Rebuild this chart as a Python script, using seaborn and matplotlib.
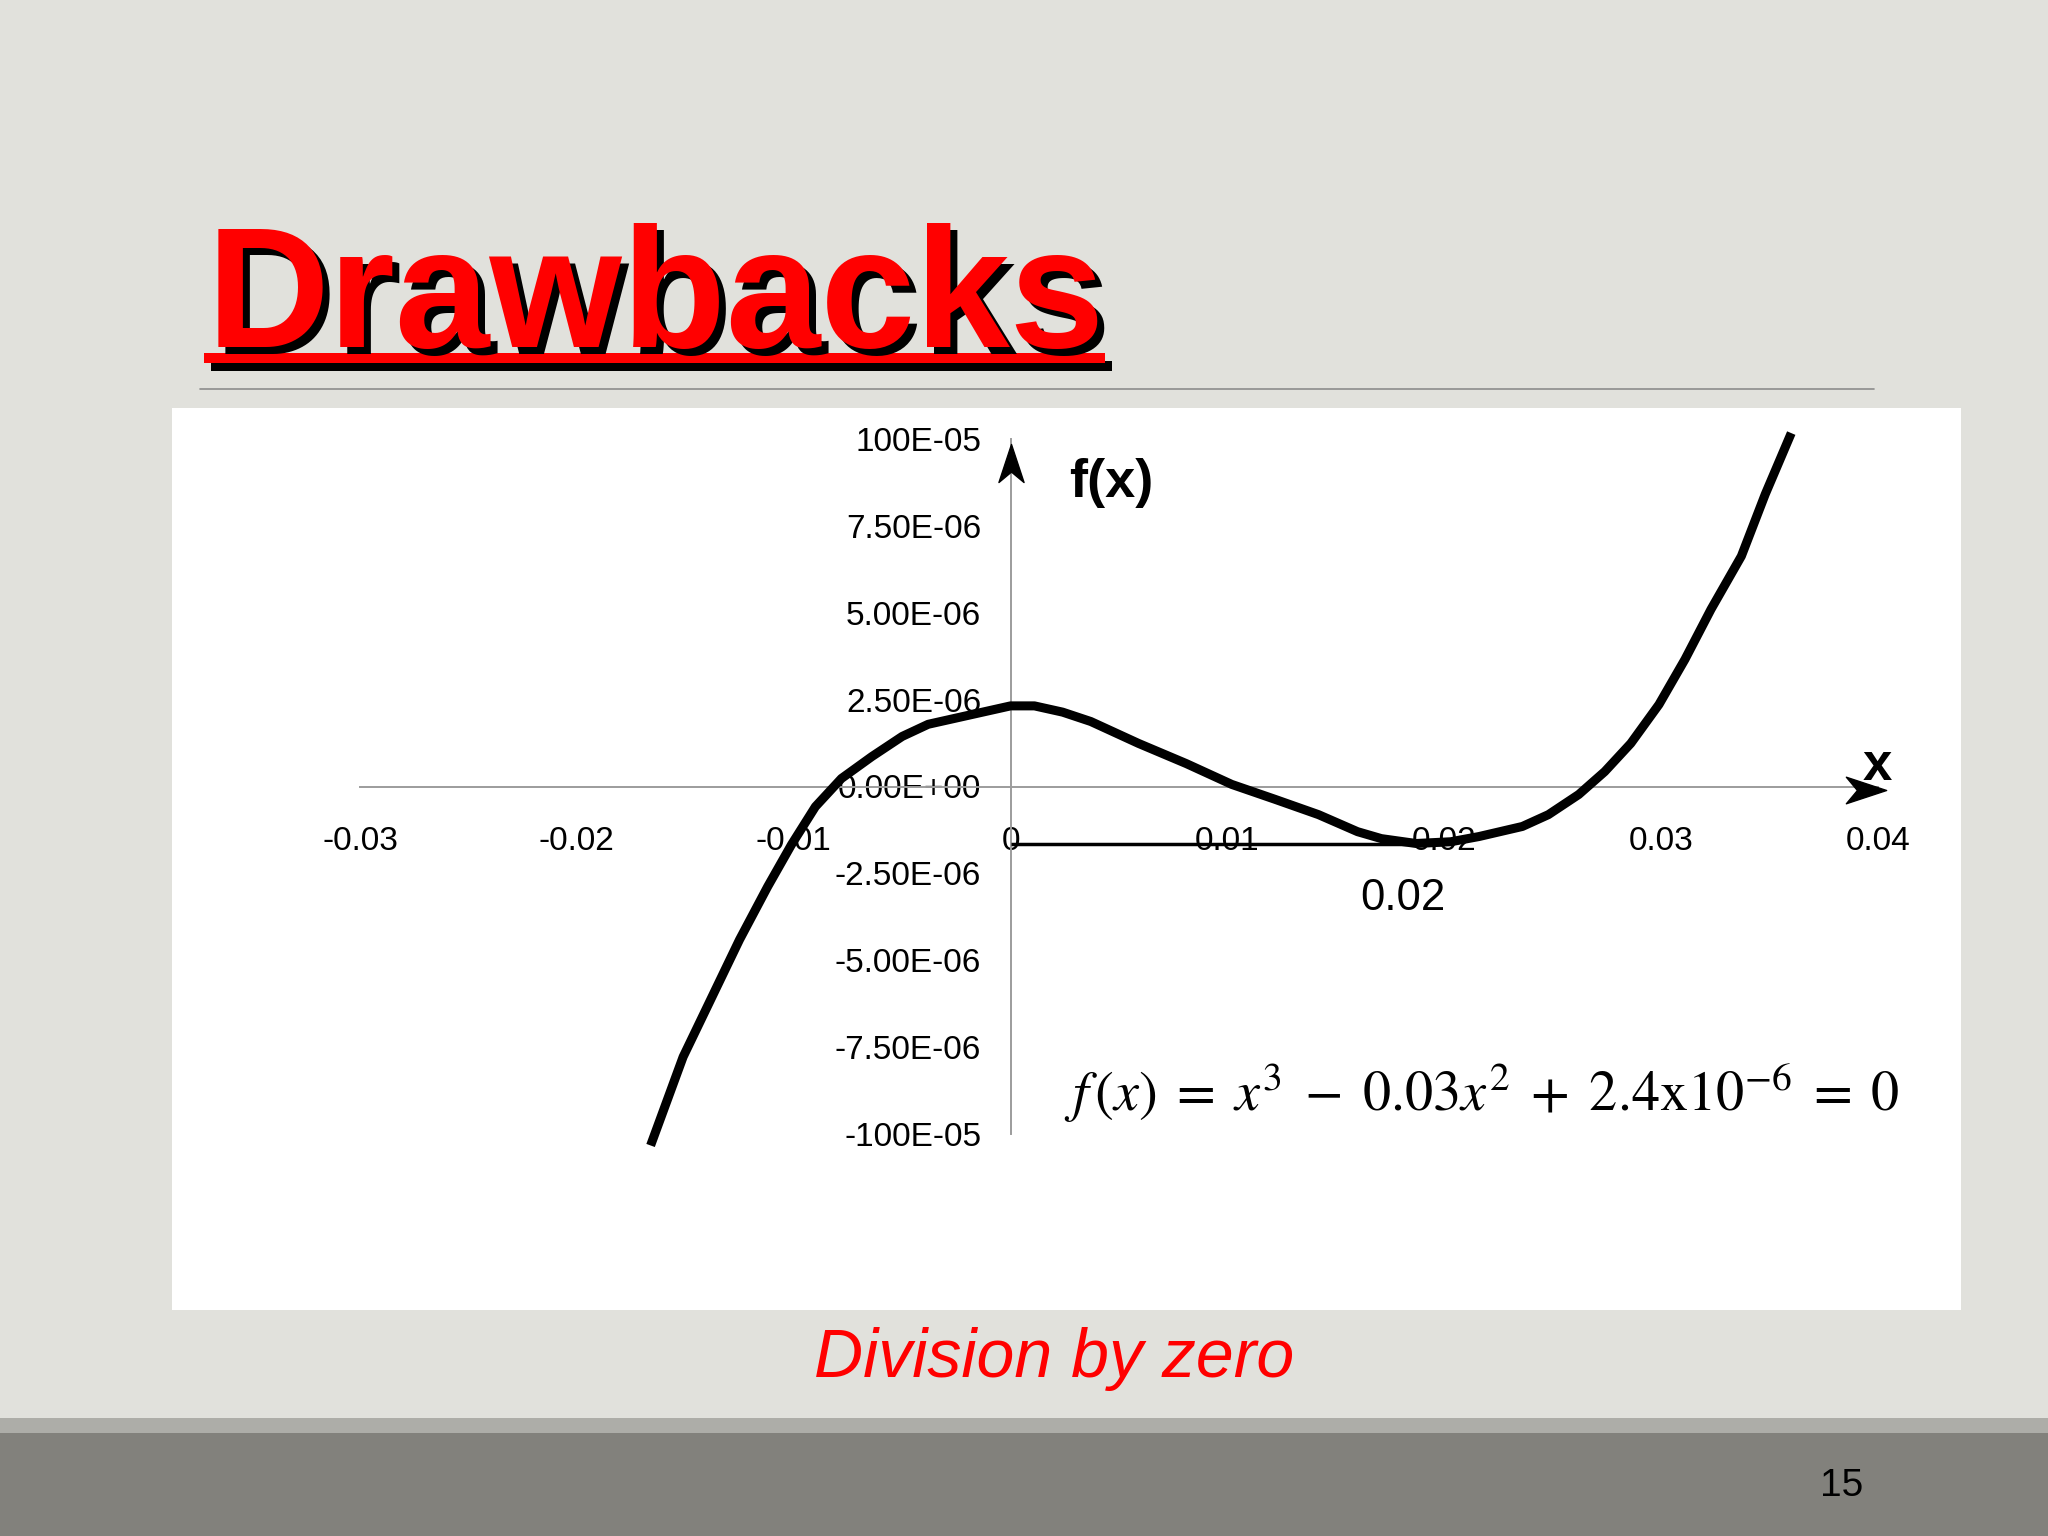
import numpy as np
import pandas as pd
import seaborn as sns
import matplotlib
matplotlib.use("Agg")
import matplotlib.pyplot as plt
from matplotlib.path import Path
from matplotlib.patches import Rectangle
from matplotlib.lines import Line2D
import matplotlib.transforms as mtrans

# ---------------- data ----------------
curve_x = [-0.0166, -0.0151, -0.0125, -0.0112, -0.0101, -0.0090, -0.0078, -0.0064,
           -0.0050, -0.0038, 0.0000, 0.0011, 0.0024, 0.0037, 0.0059, 0.0081, 0.0102,
           0.0122, 0.0142, 0.0160, 0.0171, 0.0187, 0.0203, 0.0216, 0.0236, 0.0248,
           0.0262, 0.0274, 0.0286, 0.0299, 0.0311, 0.0323, 0.0337, 0.0348, 0.0360]
curve_y = [-10.33e-6, -7.78e-6, -4.41e-6, -2.88e-6, -1.67e-6, -0.58e-6, 0.23e-6, 0.86e-6,
           1.44e-6, 1.79e-6, 2.32e-6, 2.32e-6, 2.14e-6, 1.87e-6, 1.24e-6, 0.66e-6, 0.06e-6,
           -0.37e-6, -0.81e-6, -1.30e-6, -1.50e-6, -1.64e-6, -1.59e-6, -1.44e-6, -1.15e-6,
           -0.81e-6, -0.23e-6, 0.43e-6, 1.24e-6, 2.36e-6, 3.66e-6, 5.10e-6, 6.63e-6,
           8.41e-6, 10.17e-6]
ref_line_x = [0.0, 0.02]
ref_line_y = [-1.65e-6, -1.65e-6]

x_ticks = [-0.03, -0.02, -0.01, 0.0, 0.01, 0.02, 0.03, 0.04]
x_tick_labels = ["-0.03", "-0.02", "-0.01", "0", "0.01", "0.02", "0.03", "0.04"]
y_ticks = [1.0e-5, 7.5e-6, 5.0e-6, 2.5e-6, 0.0, -2.5e-6, -5.0e-6, -7.5e-6, -1.0e-5]
y_tick_labels = ["100E-05", "7.50E-06", "5.00E-06", "2.50E-06", "0.00E+00",
                 "-2.50E-06", "-5.00E-06", "-7.50E-06", "-100E-05"]

title_text = "Drawbacks"
caption_text = "Division by zero"
root_label = "0.02"
equation = r"$f\,\left(x\right)\;=\;x^{3}\;-\;0.03x^{2}\;+\;2.4\mathrm{x}10^{-6}\;=\;0$"
page_number = "15"

# ---------------- styling ----------------
sns.set_theme(style="white")
plt.rcParams["font.family"] = ["Liberation Sans", "DejaVu Sans"]
plt.rcParams["mathtext.fontset"] = "stix"

W, H = 2048, 1536
def fx(x):
    return x / W
def fy(y):
    return 1 - y / H

fig = plt.figure(figsize=(20.48, 15.36), dpi=100, facecolor="#E1E1DC")

# slide decorations
fig.patches.append(Rectangle((fx(172), fy(1310)), (1961 - 172) / W, (1310 - 407.5) / H,
                             transform=fig.transFigure, facecolor="white",
                             edgecolor="none", zorder=0))
fig.patches.append(Rectangle((0, fy(1433)), 1, (1433 - 1418) / H,
                             transform=fig.transFigure, facecolor="#ADADA8",
                             edgecolor="none", zorder=0))
fig.patches.append(Rectangle((0, 0), 1, (1536 - 1433) / H,
                             transform=fig.transFigure, facecolor="#82817C",
                             edgecolor="none", zorder=0))
fig.add_artist(Line2D([fx(200), fx(1874)], [fy(389), fy(389)], color="#8C8C8C",
                      lw=1.2, transform=fig.transFigure))

# title with shadow and underline
fig.text(fx(214), fy(354), title_text, fontsize=122.5, fontweight="bold", color="black",
         ha="left", va="baseline")
fig.text(fx(207), fy(347), title_text, fontsize=122.5, fontweight="bold", color="#FF0000",
         ha="left", va="baseline")
fig.patches.append(Rectangle((fx(211), fy(371)), (1112 - 211) / W, 10 / H,
                             transform=fig.transFigure, facecolor="black",
                             edgecolor="none", zorder=1))
fig.patches.append(Rectangle((fx(204), fy(363)), (1105 - 204) / W, 10 / H,
                             transform=fig.transFigure, facecolor="#FF0000",
                             edgecolor="none", zorder=2))

# ---------------- chart ----------------
ax = fig.add_axes([360 / W, 1 - 1134 / H, 1518 / W, (1134 - 439) / H])
ax.set_zorder(5)
ax.patch.set_visible(False)

df = pd.DataFrame({"x": curve_x, "f": curve_y})
sns.lineplot(data=df, x="x", y="f", ax=ax, color="black", linewidth=6.5, sort=False,
             estimator=None, legend=False, clip_on=False, zorder=3,
             solid_capstyle="butt", solid_joinstyle="round")
sns.lineplot(x=ref_line_x, y=ref_line_y, ax=ax, color="black", linewidth=2.5,
             estimator=None, legend=False, zorder=3, solid_capstyle="butt")

ax.set_xlim(-0.03, 0.04)
ax.set_ylim(-1e-5, 1e-5)
ax.set_xlabel("")
ax.set_ylabel("")
for s in ["top", "right"]:
    ax.spines[s].set_visible(False)
ax.spines["left"].set_position(("data", 0))
ax.spines["bottom"].set_position(("data", 0))
for s in ["left", "bottom"]:
    ax.spines[s].set_color("#9C9C9C")
    ax.spines[s].set_linewidth(1.4)
    ax.spines[s].set_zorder(1)

ax.set_xticks(x_ticks)
ax.set_xticklabels(x_tick_labels)
ax.set_yticks(y_ticks)
ax.set_yticklabels(y_tick_labels)
ax.tick_params(axis="both", direction="inout", length=14.4, width=1.0, color="#9C9C9C",
               labelsize=24, labelcolor="black")
ax.tick_params(axis="x", pad=21.5)
ax.tick_params(axis="y", pad=14)

# arrowheads on the axes
up_arrow = Path([(0, 1), (-0.66, -1), (0, -0.45), (0.66, -1), (0, 1)],
                [Path.MOVETO, Path.LINETO, Path.LINETO, Path.LINETO, Path.CLOSEPOLY])
right_arrow = Path([(1, 0), (-1, 0.66), (-0.45, 0), (-1, -0.66), (1, 0)],
                   [Path.MOVETO, Path.LINETO, Path.LINETO, Path.LINETO, Path.CLOSEPOLY])
t_up = ax.get_xaxis_transform() + mtrans.ScaledTranslation(0, -24 / 100, fig.dpi_scale_trans)
ax.plot([0], [1], marker=up_arrow, markersize=27.4, color="black", transform=t_up,
        clip_on=False, zorder=4)
t_right = ax.get_yaxis_transform() + mtrans.ScaledTranslation(-12 / 100, -3 / 100, fig.dpi_scale_trans)
ax.plot([1], [0], marker=right_arrow, markersize=29, color="black", transform=t_right,
        clip_on=False, zorder=4)

# annotations
fig.text(fx(1111), fy(483), "f(x)", fontsize=39, fontweight="bold", color="black",
         ha="center", va="center")
fig.text(fx(1877), fy(766), "x", fontsize=38, fontweight="bold", color="black",
         ha="center", va="center")
fig.text(fx(1403), fy(899), root_label, fontsize=31.5, color="black",
         ha="center", va="center")
fig.text(fx(1482), fy(1110), equation, fontsize=40.5, color="black",
         ha="center", va="baseline")

fig.text(fx(1054), fy(1377), caption_text, fontsize=49, style="italic", color="#FF0000",
         ha="center", va="baseline")
fig.text(fx(1842), fy(1486), page_number, fontsize=28, color="black",
         ha="center", va="center")

fig.savefig("out.png", dpi=100, facecolor=fig.get_facecolor())
